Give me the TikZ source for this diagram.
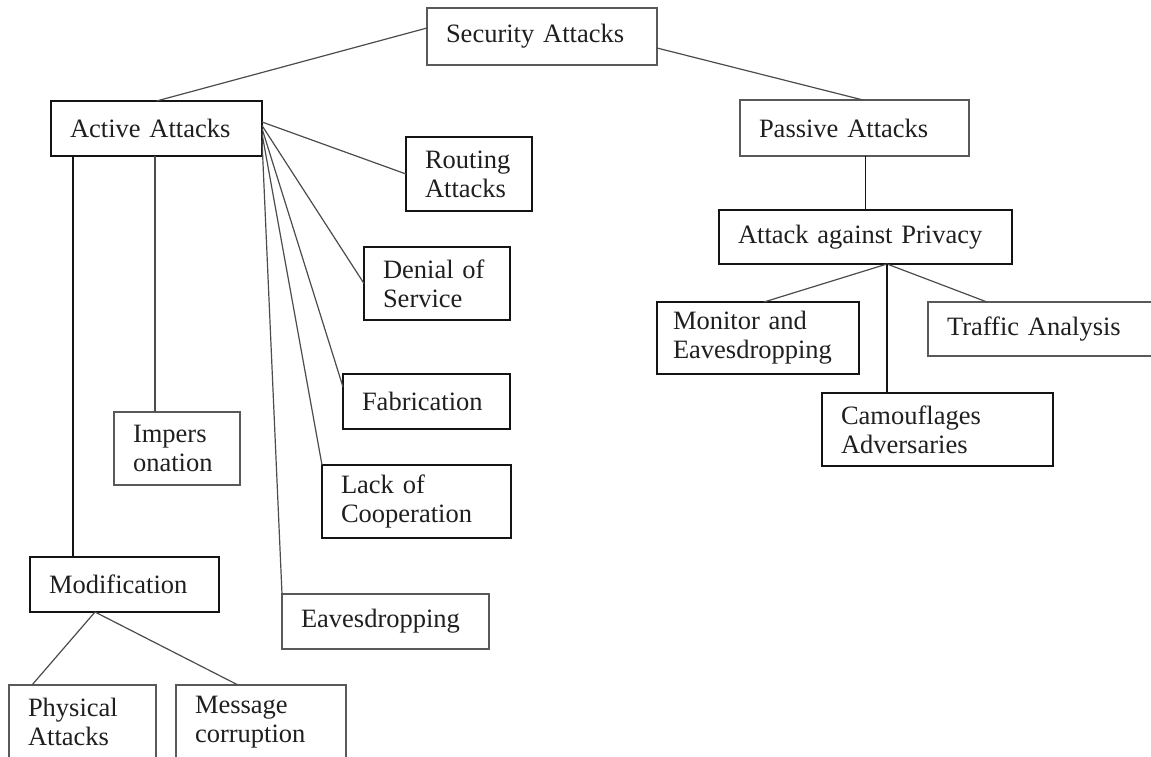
\documentclass[tikz,border=0pt]{standalone}
\usepackage{fontspec}
\setmainfont{Liberation Serif}
\usetikzlibrary{calc}
\begin{document}
\begin{tikzpicture}[x=1pt,y=-1pt,
  every node/.style={font=\fontsize{26.5}{29}\selectfont, text=black!88},
  box/.style={draw=black!65, line width=1.4pt, anchor=north west, align=left,
    inner xsep=19pt, inner ysep=0pt, outer sep=0pt},
  dbox/.style={box, draw=black!92},
  link/.style={draw=black!70, line width=1.2pt},
  dlink/.style={draw=black!92, line width=1.4pt}]
\useasboundingbox (0,0) rectangle (1151,757);
\clip (0,0) rectangle (1151,757);
\fill[white] (0,0) rectangle (1151,757);
% boxes
\node[box,  text width=192pt, minimum height=57pt] (sec) at (427,8)   {Security Attacks};
\node[dbox, text width=173pt, minimum height=55pt] (act) at (51,101)  {Active Attacks};
\node[box,  text width=191pt, minimum height=56pt] (pas) at (740,100) {Passive Attacks};
\node[dbox, text width=88pt,  minimum height=74pt] (rou) at (406,137) {Routing\\Attacks};
\node[dbox, text width=108pt, minimum height=73pt] (den) at (364,247) {Denial of\\Service};
\node[dbox, text width=129pt, minimum height=55pt] (fab) at (343,374) {Fabrication};
\node[dbox, text width=151pt, minimum height=73pt] (lac) at (322,465) {Lack of\\Cooperation};
\node[box,  text width=169pt, minimum height=55pt] (eav) at (282,594) {Eavesdropping};
\node[box,  text width=88pt,  minimum height=73pt] (imp) at (114,412) {Impers\\onation};
\node[dbox, text width=151pt, minimum height=55pt] (mod) at (30,557)  {Modification};
\node[box,  text width=109pt, minimum height=74pt] (phy) at (9,685)   {Physical\\Attacks};
\node[box,  text width=132pt, minimum height=74pt] (msg) at (176,685) {Message\\corruption};
\node[dbox, text width=255pt, minimum height=54pt] (pri) at (719,210) {Attack against Privacy};
\node[dbox, text width=170pt, minimum height=72pt, inner xsep=16pt] (mon) at (657,302) {\hspace*{0pt}Monitor and\\Eavesdropping};
\node[box,  text width=194pt, minimum height=54pt] (tra) at (928,302) {Traffic Analysis};
\node[dbox, text width=193pt, minimum height=73pt] (cam) at (822,393) {Camouflages\\Adversaries};
% connectors
\draw[link] (act.north) -- ([yshift=8.5pt]sec.west);
\draw[link] ([yshift=-11.5pt]sec.east) -- ([xshift=8.5pt]pas.north);
\draw[link] ([yshift=6.5pt]act.east) -- (rou.west);
\draw[link] ([yshift=3pt]act.east) -- (den.west);
\draw[link] (act.east) -- ([yshift=-13pt]fab.north west);
\draw[link] ([yshift=-5pt]act.east) -- (lac.north west);
\draw[link] ([yshift=-12pt]act.east) -- (eav.north west);
\draw[dlink] ([xshift=-83.5pt]act.south) -- ([xshift=-83.5pt]act.south |- mod.north);
\draw[link] ([xshift=-1.5pt]act.south) -- ([xshift=-1.5pt]act.south |- imp.north);
\draw[link] ([xshift=-29.5pt]mod.south) -- ([xshift=-50.5pt]phy.north);
\draw[link] ([xshift=-29.5pt]mod.south) -- ([xshift=-23pt]msg.north);
\draw[dlink] (pri.north |- pas.south) -- (pri.north);
\draw[link] ([xshift=21.5pt]pri.south) -- ([xshift=6pt]mon.north);
\draw[link] ([xshift=21.5pt]pri.south) -- ([xshift=59pt]tra.north west);
\draw[dlink] ([xshift=21.5pt]pri.south) -- ([xshift=21.5pt]pri.south |- cam.north);
\end{tikzpicture}
\end{document}
